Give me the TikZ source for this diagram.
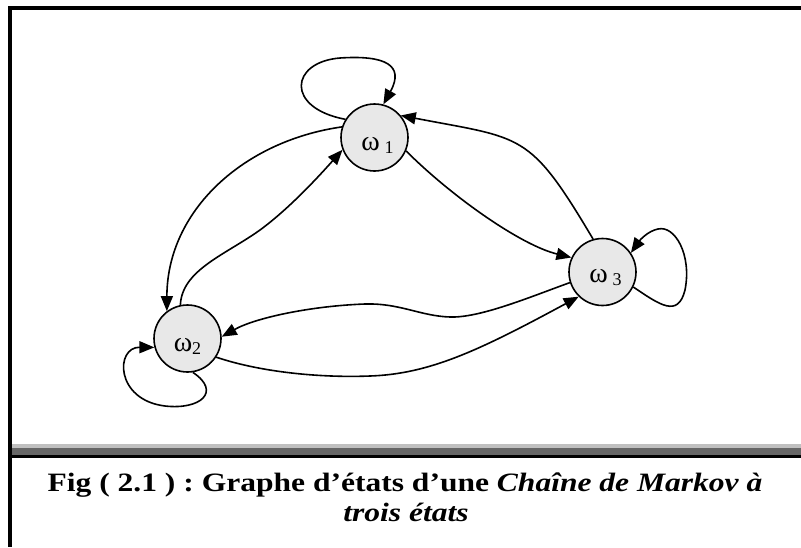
\documentclass[tikz,border=0pt]{standalone}
\usepackage{fontspec}
\setmainfont{Liberation Serif}
\usetikzlibrary{arrows.meta}
\definecolor{nodegray}{HTML}{E8E8E8}
\definecolor{barlight}{HTML}{C0C0C0}
\definecolor{bardark}{HTML}{666666}
% state label: omega with a lowered index, baseline dropped below the centre
\newcommand{\statelabel}[3]{\raisebox{-#3}[0pt][0pt]{ω#1{\fontsize{18}{18}\selectfont\raisebox{-3pt}{#2}}}}
\frenchspacing
\begin{document}
\begin{tikzpicture}[x=1pt,y=-1pt,
  state/.style={circle, draw, line width=1.6pt, fill=nodegray, minimum size=67pt,
    inner sep=0pt, font=\fontsize{28}{28}\selectfont},
  edge/.style={line width=1.6pt, -{Triangle[length=15pt,width=12pt]}},
  caption/.style={anchor=base, font=\fontsize{26.5}{30}\selectfont\bfseries,
    inner sep=0pt, xscale=1.19}
]
\useasboundingbox (0,0) rectangle (801,547);
\fill[white] (0,0) rectangle (801,547);

% outer frame (top and left rules)
\draw[line width=4pt] (8,8) -- (801,8);
\draw[line width=4pt] (10,6) -- (10,547);

% shaded separator above the caption
\fill[barlight] (12,444) rectangle (801,448);
\fill[bardark] (12,448) rectangle (801,455);
\fill[black] (12,455) rectangle (801,457.5);

% states
\node[state] (w1) at (374.5,137.5) {\hspace{6pt}\statelabel{\,}{1}{13pt}};
\node[state] (w2) at (187.5,338.5) {\statelabel{}{2}{13pt}};
\node[state] (w3) at (602.5,272) {\hspace{6pt}\statelabel{\,}{3}{10pt}};

% self loops
\draw[edge] (w1.148) .. controls (285,108) and (290,62) .. (340,58)
  .. controls (385,55) and (405,65) .. (w1.75);
\draw[edge] (w2.-81) .. controls (222,392) and (200,410) .. (165,406)
  .. controls (115,400) and (115,347) .. (w2.195);
\draw[edge] (w3.-26) .. controls (660,305) and (678,318) .. (685,290)
  .. controls (692,255) and (675,225) .. (658,229)
  .. controls (648,231) and (640,240) .. (w3.34);

% transitions between states
\draw[edge] (w1.-23) .. controls (450,195) and (520,245) .. (w3.155);
\draw[edge] (w3.106) .. controls (529,131) and (523,139) .. (w1.40);
\draw[edge] (w1.162) .. controls (243,141) and (167,211) .. (w2.127);
\draw[edge] (w2.102) .. controls (182,270) and (225,255) .. (260,230)
  .. controls (290,208) and (320,175) .. (w1.201);
\draw[edge] (w3.198) .. controls (530,297) and (480,318) .. (450,317)
  .. controls (420,316) and (400,303) .. (365,304)
  .. controls (310,306) and (255,318) .. (w2.3);
\draw[edge] (w2.-33) .. controls (260,372) and (320,378) .. (370,376)
  .. controls (430,374) and (480,350) .. (w3.226);

% caption
\node[caption] (cap1) at (405,491) {Fig ( 2.1 ) : Graphe d’états d’une \textit{Chaîne de Markov à}};
\node[caption] (cap2) at (406,521) {\textit{trois états}};
\end{tikzpicture}
\end{document}
